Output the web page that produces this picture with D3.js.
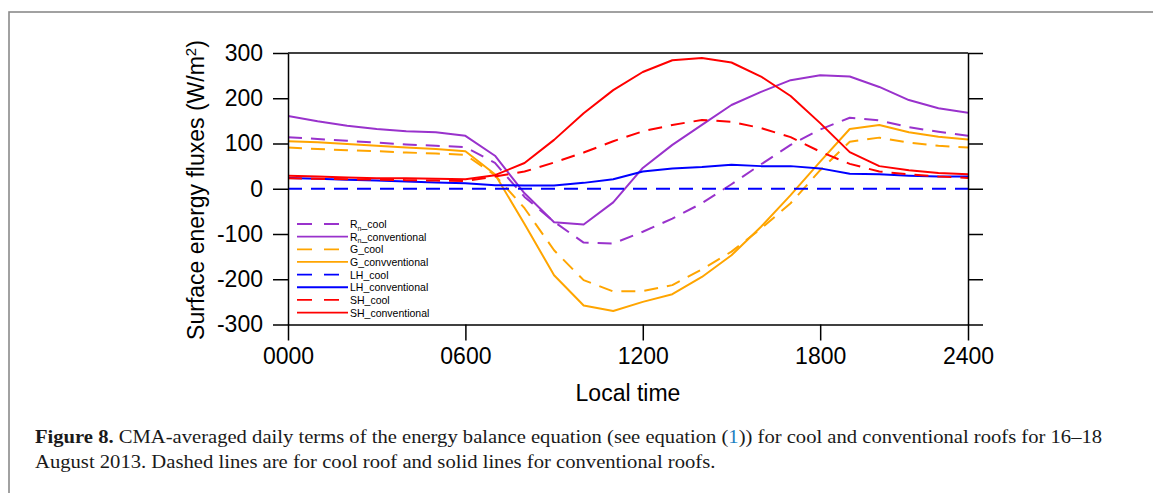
<!DOCTYPE html>
<html><head><meta charset="utf-8">
<script src="https://cdn.jsdelivr.net/npm/d3@7/dist/d3.min.js"></script>
<style>body{margin:0;background:#fff} svg{display:block}</style>
</head><body>
<svg id="c" width="1153" height="493"></svg>
<script>
// ---- data ----
const hours = [0,1,2,3,4,5,6,7,8,9,10,11,12,13,14,15,16,17,18,19,20,21,22,23];
const rnCool = [114,110,106,102,98,95,92,57,-18,-73,-119,-121,-95,-66,-32,10,54,97,131,157,151,136,126,117];
const rnConv = [161,149,139,132,127,125,117,73,-10,-74,-79,-30,46,97,141,185,214,240,251,248,225,196,178,168];
const gCool  = [91,88,85,83,80,78,75,30,-43,-136,-202,-227,-226,-213,-178,-139,-88,-32,41,104,113,102,95,91];
const gConv  = [105,103,99,95,91,88,83,32,-78,-191,-258,-270,-250,-233,-195,-147,-84,-14,60,132,141,125,115,109];
const lhCool = [0,0,0,0,0,0,0,0,0,0,0,0,0,0,0,0,0,0,0,0,0,0,0,0];
const lhConv = [24,22,20,18,16,14,12,8,7,7,13,21,38,45,48,53,50,50,45,33,32,29,27,27];
const shCool = [23,22,21,20,19,18,17,27,38,58,80,105,127,141,152,148,134,114,82,55,38,32,27,24];
const shConv = [29,27,25,23,23,22,21,30,57,108,167,218,258,284,289,279,248,205,145,81,50,41,35,32];

const seriesNames = ["R_cool","R_conventional","G_cool","G_convventional","LH_cool","LH_conventional","SH_cool","SH_conventional"];
const seriesColors = ["#9932CC","#9932CC","#FFA500","#FFA500","#0000FF","#0000FF","#FF0000","#FF0000"];
const seriesDashed = [true,false,true,false,true,false,true,false];
const seriesValues = [rnCool,rnConv,gCool,gConv,lhCool,lhConv,shCool,shConv];

const xTickValues = [0,6,12,18,23];
const xTickLabels = ["0000","0600","1200","1800","2400"];
const yTickValues = [-300,-200,-100,0,100,200,300];
const yTickLabels = ["-300","-200","-100","0","100","200","300"];

// ---- layout ----
const svg = d3.select("#c");
const L = 288, R = 968, T = 53, B = 324.5;
const x = d3.scaleLinear().domain([0,23]).range([L,R]);
const y = d3.scaleLinear().domain([-300,300]).range([B,T]);
const FONT = "'Liberation Sans', Arial, Helvetica, sans-serif";

// outer grey frame
svg.append("rect").attr("x",9).attr("y",12).attr("width",1200).attr("height",600)
  .attr("fill","none").attr("stroke","#8a8a8a").attr("stroke-width",1.6);

// clip
svg.append("clipPath").attr("id","clip").append("rect")
  .attr("x",L).attr("y",T).attr("width",R-L).attr("height",B-T);

// lines
const line = d3.line().x((d,i)=>x(hours[i])).y(d=>y(d));
const gl = svg.append("g").attr("clip-path","url(#clip)");
seriesValues.forEach((vals,k)=>{
  gl.append("path").datum(vals).attr("d",line)
    .attr("fill","none").attr("stroke",seriesColors[k]).attr("stroke-width",2)
    .attr("stroke-dasharray",seriesDashed[k]?"14,9":null)
    .attr("stroke-linejoin","round");
});

// axes
function styleAxis(g){
  g.selectAll("path,line").attr("stroke","#000").attr("stroke-width",1.5);
  g.selectAll("text").attr("fill","#000").style("font-family",FONT);
}
const ax = svg.append("g").attr("transform",`translate(0,${B})`)
  .call(d3.axisBottom(x).tickValues(xTickValues).tickFormat((d,i)=>xTickLabels[i])
    .tickSize(16).tickSizeOuter(0).tickPadding(7));
ax.selectAll("text").style("font-size","23px");
styleAxis(ax);
const ay = svg.append("g").attr("transform",`translate(${L},0)`)
  .call(d3.axisLeft(y).tickValues(yTickValues).tickFormat((d,i)=>yTickLabels[i])
    .tickSize(15).tickSizeOuter(0).tickPadding(10));
ay.selectAll("text").style("font-size","23px");
styleAxis(ay);
const ayr = svg.append("g").attr("transform",`translate(${R},0)`)
  .call(d3.axisRight(y).tickValues(yTickValues).tickFormat("").tickSize(15).tickSizeOuter(0));
styleAxis(ayr);
svg.append("line").attr("x1",L).attr("x2",R).attr("y1",T).attr("y2",T)
  .attr("stroke","#000").attr("stroke-width",1.5);

// axis titles
svg.append("text").attr("x",628).attr("y",401).attr("text-anchor","middle")
  .style("font-family",FONT).style("font-size","23px").text("Local time");
const yt = svg.append("text").attr("transform","translate(204,190) rotate(-90)")
  .attr("text-anchor","middle").style("font-family",FONT).style("font-size","23px");
yt.append("tspan").text("Surface energy fluxes (W/m");
yt.append("tspan").attr("dy",-8).style("font-size","15px").text("2");
yt.append("tspan").attr("dy",8).text(")");

// legend
const lg = svg.append("g");
seriesNames.forEach((nm,k)=>{
  const yy = 224 + k*12.65;
  lg.append("line").attr("x1",297).attr("x2",348).attr("y1",yy).attr("y2",yy)
    .attr("stroke",seriesColors[k]).attr("stroke-width",1.8)
    .attr("stroke-dasharray",seriesDashed[k]?"15,12":null);
  const t = lg.append("text").attr("x",350).attr("y",yy+4)
    .style("font-family",FONT).style("font-size","10.5px");
  if(nm.startsWith("R_")){
    t.append("tspan").text("R");
    t.append("tspan").attr("dy",2.5).style("font-size","7px").text("n");
    t.append("tspan").attr("dy",-2.5).text(nm.slice(1));
  } else t.text(nm);
});

// caption
const CF = "'Liberation Serif', 'Times New Roman', serif";
const c1 = svg.append("text").attr("x",35).attr("y",443).style("font-family",CF).style("font-size","19px").attr("fill","#1a1a1a");
c1.append("tspan").style("font-weight","bold").text("Figure 8.");
c1.append("tspan").text(" CMA-averaged daily terms of the energy balance equation (see equation (");
c1.append("tspan").attr("fill","#1a7fc1").text("1");
c1.append("tspan").text(")) for cool and conventional roofs for 16\u201318");
const c2 = svg.append("text").attr("x",35).attr("y",468).style("font-family",CF).style("font-size","19px").attr("fill","#1a1a1a")
  .text("August 2013. Dashed lines are for cool roof and solid lines for conventional roofs.");
function fitW(sel, w){
  const n = sel.node(); const cw = n.getComputedTextLength();
  sel.attr("transform",`translate(35,0) scale(${w/cw},1) translate(-35,0)`);
}
fitW(c1, 1068); fitW(c2, 681);
</script>
</body></html>
